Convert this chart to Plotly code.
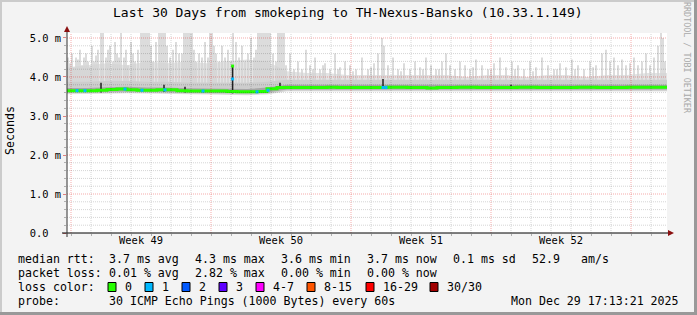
import plotly.graph_objects as go

# ---------------- data ----------------
# x axis unit: days since the start of the 30-day window
layer_days = list(range(0, 31))
smoke_bot = [3.56, 3.56, 3.57, 3.58, 3.57, 3.57, 3.55, 3.55, 3.54, 3.53, 3.55, 3.63, 3.63, 3.63, 3.63, 3.63,
             3.63, 3.63, 3.63, 3.63, 3.63, 3.63, 3.63, 3.63, 3.63, 3.63, 3.63, 3.63, 3.63, 3.63, 3.63]
outer_top = [4.25, 4.30, 4.35, 4.30, 4.40, 4.35, 4.40, 4.35, 4.40, 4.45, 4.40, 4.15, 4.10, 4.10, 4.05, 4.05,
             4.05, 4.05, 4.05, 4.05, 4.00, 4.05, 4.05, 4.00, 4.05, 4.05, 4.00, 4.05, 4.05, 4.10, 4.10]
mid_bot = [3.58, 3.58, 3.59, 3.60, 3.59, 3.59, 3.57, 3.57, 3.56, 3.55, 3.57, 3.65, 3.65, 3.65, 3.65, 3.65,
           3.65, 3.65, 3.65, 3.65, 3.65, 3.65, 3.65, 3.65, 3.65, 3.65, 3.65, 3.65, 3.65, 3.65, 3.65]
mid_top = [3.88, 3.88, 3.90, 3.90, 3.88, 3.88, 3.86, 3.86, 3.86, 3.85, 3.88, 3.93, 3.93, 3.93, 3.93, 3.93,
           3.93, 3.93, 3.93, 3.93, 3.92, 3.93, 3.93, 3.92, 3.93, 3.93, 3.92, 3.93, 3.93, 3.93, 3.93]
inner_bot = [3.61, 3.61, 3.62, 3.63, 3.62, 3.62, 3.60, 3.60, 3.59, 3.58, 3.60, 3.68, 3.68, 3.68, 3.68, 3.68,
             3.68, 3.68, 3.68, 3.68, 3.68, 3.68, 3.68, 3.68, 3.68, 3.68, 3.68, 3.68, 3.68, 3.68, 3.68]
inner_top = [3.72, 3.72, 3.74, 3.75, 3.73, 3.73, 3.71, 3.71, 3.70, 3.69, 3.73, 3.80, 3.80, 3.80, 3.80, 3.80,
             3.80, 3.80, 3.80, 3.80, 3.79, 3.80, 3.80, 3.79, 3.80, 3.80, 3.79, 3.80, 3.80, 3.80, 3.80]

# median rtt per half day (ms)
median_rtt = [3.65, 3.65, 3.65, 3.66, 3.68, 3.69, 3.67, 3.66, 3.66, 3.67,
              3.67, 3.65, 3.64, 3.64, 3.64, 3.64, 3.63, 3.62, 3.62, 3.63,
              3.70, 3.73, 3.73, 3.73, 3.73, 3.73, 3.74, 3.73, 3.73, 3.73,
              3.73, 3.73, 3.74, 3.74, 3.73, 3.73, 3.72, 3.73, 3.73, 3.74,
              3.74, 3.73, 3.73, 3.73, 3.73, 3.74, 3.74, 3.73, 3.73, 3.73,
              3.73, 3.74, 3.74, 3.73, 3.73, 3.73, 3.74, 3.74, 3.74, 3.74]

# thin smoke spikes: position (days) and top (ms)
spike_day = [0.05, 0.15, 0.25, 0.35, 0.45, 0.55, 0.65, 0.75, 0.85, 0.95, 1.05, 1.15, 1.25, 1.35, 1.45,
             1.55, 1.7, 1.8, 1.95, 2.05, 2.15, 2.3, 2.4, 2.5, 2.6, 2.7, 2.85, 2.95, 3.05, 3.2, 3.3,
             3.4, 3.55, 3.7, 3.8, 3.9, 4.0, 4.1, 4.2, 4.3, 4.45, 4.6, 4.7, 4.8, 4.9, 5.0, 5.15, 5.3,
             5.45, 5.6, 5.75, 5.85, 5.95, 6.05, 6.15, 6.25, 6.35, 6.45, 6.6, 6.75, 6.9, 7.05, 7.15,
             7.25, 7.35, 7.45, 7.6, 7.75, 7.9, 8.05, 8.2, 8.3, 8.45, 8.6, 8.75, 8.9, 9.05, 9.2, 9.35,
             9.45, 9.55, 9.65, 9.75, 9.85, 9.95, 10.05, 10.15, 10.3, 10.45, 10.55, 10.65, 10.75, 10.85,
             10.95, 11.15, 11.35, 11.55, 11.75, 11.95, 12.15, 12.3, 12.4, 12.65, 12.8, 12.9, 13.15,
             13.4, 13.55, 13.65, 13.9, 14.15, 14.3, 14.45, 14.75, 15.05, 15.2, 15.35, 15.55, 15.75,
             15.85, 16.05, 16.3, 16.55, 16.7, 16.85, 17.15, 17.4, 17.65, 17.8, 17.95, 18.2, 18.45,
             18.6, 18.75, 18.95, 19.15, 19.4, 19.65, 19.9, 20.15, 20.3, 20.45, 20.75, 21.05, 21.2,
             21.35, 21.65, 21.95, 22.25, 22.4, 22.55, 22.85, 23.15, 23.3, 23.45, 23.75, 24.05, 24.35,
             24.5, 24.65, 24.95, 25.25, 25.4, 25.55, 25.85, 26.15, 26.3, 26.45, 26.75, 26.95, 27.15,
             27.35, 27.55, 27.75, 27.95, 28.15, 28.35, 28.55, 28.75, 28.95, 29.15, 29.35, 29.55,
             29.7, 29.8, 29.9]
spike_top = [4.5, 4.35, 4.6, 4.25, 4.5, 4.45, 4.7, 4.3, 4.5, 4.6, 4.4, 4.25, 4.8, 4.4, 4.55,
             4.7, 5.13, 5.13, 4.5, 4.7, 4.8, 4.4, 4.9, 4.6, 4.5, 5.13, 4.5, 4.7, 4.3, 4.9, 4.6,
             4.4, 4.7, 5.13, 5.13, 5.13, 5.13, 5.13, 4.8, 4.4, 4.9, 5.13, 5.13, 5.13, 5.13, 4.8, 4.5, 4.7,
             4.9, 4.6, 4.6, 5.13, 5.13, 5.13, 5.13, 5.13, 4.7, 4.4, 4.6, 4.5, 4.9, 4.5, 5.13,
             5.13, 4.8, 4.6, 4.4, 4.8, 4.5, 4.7, 4.4, 5.13, 4.9, 4.5, 4.8, 4.4, 4.6, 5.0, 4.5,
             4.7, 5.13, 5.13, 5.13, 5.13, 5.13, 5.13, 5.13, 4.6, 4.4, 5.13, 5.13, 5.13, 5.13,
             4.3, 4.6, 4.2, 4.4, 4.2, 4.7, 4.3, 4.2, 4.5, 4.2, 4.3, 4.35, 4.2,
             4.6, 4.2, 4.25, 4.4, 4.3, 4.15, 4.2, 4.5, 4.2, 4.25, 4.35, 4.6, 5.0,
             4.8, 4.3, 4.5, 4.2, 4.15, 4.35, 4.2, 4.4, 4.25, 4.2, 4.5, 4.3, 4.2,
             4.2, 4.4, 4.6, 4.3, 4.2, 4.4, 4.3, 4.2, 4.25, 4.45, 4.3, 4.2, 4.2,
             4.35, 4.5, 4.25, 4.4, 4.2, 4.3, 4.2, 4.4, 4.15, 4.25, 4.5, 4.3, 4.2,
             4.2, 4.35, 4.25, 4.45, 4.2, 4.3, 4.2, 4.4, 4.25, 4.3, 4.6, 4.7, 4.4,
             4.5, 4.3, 4.45, 4.3, 4.35, 4.5, 4.3, 4.4, 4.6, 4.3, 4.5, 4.8,
             5.13, 5.0, 4.4]
spike_base = 3.8

# dark smoke columns: position (days), low, high (ms)
dark_day = [1.7, 4.85, 5.9, 8.28, 10.65, 15.8, 22.2]
dark_lo = [3.60, 3.62, 3.60, 3.58, 3.70, 3.70, 3.70]
dark_hi = [3.85, 3.80, 3.75, 4.28, 3.85, 3.95, 3.80]

# median points coloured by loss: position (days), value (ms), loss class
loss_day = [0.5, 0.9, 2.9, 3.75, 4.9, 6.8, 8.28, 8.28, 9.5, 10.05, 15.8, 15.95]
loss_val = [3.65, 3.65, 3.69, 3.66, 3.67, 3.64, 3.95, 4.28, 3.62, 3.66, 3.73, 3.73]
loss_cls = ["1", "1", "1", "1", "1", "1", "1", "0", "1", "1", "1", "1"]

loss_names = ["0", "1", "2", "3", "4-7", "8-15", "16-29", "30/30"]
loss_colors = ["#26ff00", "#00b8ff", "#0059ff", "#5e00ff", "#ff00ff", "#ff5500", "#ff0000", "#a10000"]

week_pos = [3.7, 10.7, 17.7, 24.7]
week_labels = ["Week 49", "Week 50", "Week 51", "Week 52"]
day_lines = [0.2 + k for k in range(30)]
major_days = [0.2, 7.2, 14.2, 21.2, 28.2]

y_ticks = [0, 1, 2, 3, 4, 5]
y_ticktext = ["0.0\u00a0\u00a0", "1.0 m", "2.0 m", "3.0 m", "4.0 m", "5.0 m"]
y_max = 5.128

title = "Last 30 Days from smokeping to TH-Nexus-Bansko (10.33.1.149)"
rtt_items = ["3.7 ms avg", "4.3 ms max", "3.6 ms min", "3.7 ms now", "0.1 ms sd", "52.9", "am/s"]
loss_items = ["0.01 % avg", "2.82 % max", "0.00 % min", "0.00 % now"]
probe_text = "30 ICMP Echo Pings (1000 Bytes) every 60s"
stamp = "Mon Dec 29 17:13:21 2025"

# ---------------- geometry ----------------
W, H = 697, 315
L, R, T, B = 67, 667, 33, 233
MONO = "DejaVu Sans Mono"


def px(x):
    return (x - L) / (R - L)


def py(y):
    return (B - y) / (B - T)


fig = go.Figure()


def band(lo, hi, color):
    fig.add_trace(go.Scatter(x=layer_days, y=lo, mode="lines", line=dict(width=0),
                             hoverinfo="skip", showlegend=False))
    fig.add_trace(go.Scatter(x=layer_days, y=hi, mode="lines", line=dict(width=0),
                             fill="tonexty", fillcolor=color, hoverinfo="skip", showlegend=False))


band(smoke_bot, outer_top, "#e3e3e3")

sx, sy = [], []
for d, t in zip(spike_day, spike_top):
    sx += [d, d, None]
    sy += [spike_base, t, None]
fig.add_trace(go.Scatter(x=sx, y=sy, mode="lines", line=dict(color="#d4d4d4", width=1.6),
                         hoverinfo="skip", showlegend=False))

band(mid_bot, mid_top, "#cdcdcd")
band(inner_bot, inner_top, "#a6a6a6")

dx, dy = [], []
for d, lo, hi in zip(dark_day, dark_lo, dark_hi):
    dx += [d, d, None]
    dy += [lo, hi, None]
fig.add_trace(go.Scatter(x=dx, y=dy, mode="lines", line=dict(color="#202020", width=1.5),
                         hoverinfo="skip", showlegend=False))

mx = [i * 0.5 for i in range(len(median_rtt))] + [30]
my = median_rtt + [median_rtt[-1]]
fig.add_trace(go.Scatter(x=mx, y=my, mode="lines", line=dict(color=loss_colors[0], width=3, shape="hv"),
                         hoverinfo="skip", showlegend=False))

fig.add_trace(go.Scatter(x=loss_day, y=loss_val, mode="markers",
                         marker=dict(symbol="square", size=3,
                                     color=[loss_colors[loss_names.index(c)] for c in loss_cls],
                                     line=dict(width=0)),
                         hoverinfo="skip", showlegend=False))

shapes = []
# frame
shapes.append(dict(type="rect", xref="paper", yref="paper", x0=px(0), x1=px(W), y0=py(0), y1=py(2),
                   fillcolor="#cbcbcb", line=dict(width=0), layer="below"))
shapes.append(dict(type="rect", xref="paper", yref="paper", x0=px(0), x1=px(2), y0=py(0), y1=py(H),
                   fillcolor="#cbcbcb", line=dict(width=0), layer="below"))
shapes.append(dict(type="rect", xref="paper", yref="paper", x0=px(W - 3), x1=px(W), y0=py(0), y1=py(H),
                   fillcolor="#999999", line=dict(width=0), layer="below"))
shapes.append(dict(type="rect", xref="paper", yref="paper", x0=px(0), x1=px(W), y0=py(H - 3), y1=py(H),
                   fillcolor="#999999", line=dict(width=0), layer="below"))

# grid (drawn above the smoke, like rrdtool)
minor_col = "rgba(0,0,0,0.17)"
major_col = "rgba(225,0,0,0.33)"
for d in day_lines:
    shapes.append(dict(type="line", xref="x", yref="paper", x0=d, x1=d, y0=0, y1=1, layer="above",
                       line=dict(color=major_col if d in major_days else minor_col, width=1, dash="1px,1px")))
for k in range(1, 26):
    v = k * 0.2
    shapes.append(dict(type="line", xref="paper", yref="y", x0=0, x1=1, y0=v, y1=v, layer="above",
                       line=dict(color=major_col if k % 5 == 0 else minor_col, width=1, dash="1px,1px")))

# axes lines and arrows
shapes.append(dict(type="line", xref="paper", yref="paper", x0=px(62), x1=px(669), y0=py(233), y1=py(233),
                   line=dict(color="#000000", width=1), layer="above"))
shapes.append(dict(type="line", xref="paper", yref="paper", x0=px(67), x1=px(67), y0=py(237), y1=py(31),
                   line=dict(color="#303030", width=1), layer="above"))
shapes.append(dict(type="path", xref="paper", yref="paper",
                   path=f"M {px(668)} {py(230)} L {px(674)} {py(233)} L {px(668)} {py(236)} Z",
                   fillcolor="#8b1010", line=dict(width=0), layer="above"))
shapes.append(dict(type="path", xref="paper", yref="paper",
                   path=f"M {px(64)} {py(32)} L {px(67)} {py(26)} L {px(70)} {py(32)} Z",
                   fillcolor="#8b1010", line=dict(width=0), layer="above"))

annotations = []


def text(x, y, s, size=11.6, anchor="left", color="#000000", angle=0):
    annotations.append(dict(xref="paper", yref="paper", x=px(x), y=py(y), text=s, showarrow=False,
                            xanchor=anchor, yanchor="middle", textangle=angle,
                            font=dict(family=MONO, size=size, color=color)))


text(348, 13, title, size=13, anchor="center")
text(10, 131, "Seconds", size=11.6, anchor="center", angle=-90)
text(687, 58, "RRDTOOL / TOBI OETIKER", size=8.4, anchor="center", color="#a9a9a9", angle=90)

row_y = [259, 273, 287, 301]
item_x = [107, 193, 279, 365, 451, 530, 579]
text(16, row_y[0], "median rtt:")
for xx, s in zip(item_x, rtt_items):
    text(xx, row_y[0], s)
text(16, row_y[1], "packet loss:")
for xx, s in zip(item_x, loss_items):
    text(xx, row_y[1], s)
text(16, row_y[2], "loss color:")
box_x = [108, 145, 182, 219, 256, 307, 366, 430]
for bx, name, col in zip(box_x, loss_names, loss_colors):
    shapes.append(dict(type="rect", xref="paper", yref="paper", x0=px(bx), x1=px(bx + 8),
                       y0=py(291.5), y1=py(282.5), fillcolor=col, line=dict(color="#000000", width=1)))
    text(bx + 15, row_y[2], name)
text(16, row_y[3], "probe:")
text(107, row_y[3], probe_text)
text(681, row_y[3], stamp, anchor="right")

fig.update_layout(
    width=W, height=H,
    margin=dict(l=L, r=W - R, t=T, b=H - B, pad=0),
    paper_bgcolor="#f3f3f3", plot_bgcolor="#ffffff",
    showlegend=False,
    shapes=shapes, annotations=annotations,
    xaxis=dict(range=[0, 30], showgrid=False, zeroline=False, showline=False,
               tickmode="array", tickvals=week_pos, ticktext=week_labels, ticks="",
               tickfont=dict(family=MONO, size=10.4, color="#000000"),
               minor=dict(tickmode="array", tickvals=day_lines, ticks="outside", ticklen=2,
                          tickcolor="#b0b0b0", showgrid=False)),
    yaxis=dict(range=[0, y_max], showgrid=False, zeroline=False, showline=False,
               tickmode="array", tickvals=y_ticks, ticktext=y_ticktext, ticks="outside", ticklen=3,
               tickcolor="#e08080", tickfont=dict(family=MONO, size=10.4, color="#000000"),
               minor=dict(dtick=0.2, tick0=0, ticks="outside", ticklen=2, tickcolor="#b0b0b0",
                          showgrid=False)),
)

fig.write_html("out.html")
